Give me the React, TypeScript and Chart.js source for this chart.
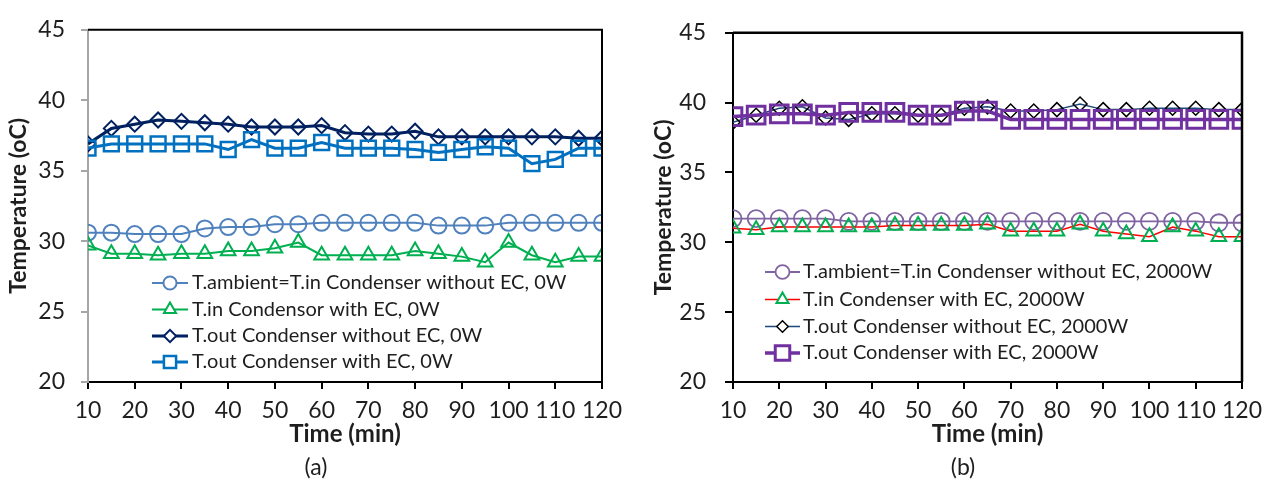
import React, { useEffect, useRef } from 'react';
import { Chart, registerables } from 'chart.js';
import { drawPoint } from 'chart.js/helpers';

Chart.register(...registerables);

const times = [10, 15, 20, 25, 30, 35, 40, 45, 50, 55, 60, 65, 70, 75, 80, 85, 90, 95, 100, 105, 110, 115, 120];
const xTicks = [10, 20, 30, 40, 50, 60, 70, 80, 90, 100, 110, 120];
const yTicks = [20, 25, 30, 35, 40, 45];

// Panel (a) – 0W
const aLabels = [
  'T.ambient=T.in Condenser without EC, 0W',
  'T.in Condensor with EC, 0W',
  'T.out Condenser without EC, 0W',
  'T.out Condenser with EC, 0W',
];
const aAmbient = [30.6, 30.6, 30.5, 30.5, 30.5, 30.9, 31.0, 31.0, 31.2, 31.2, 31.3, 31.3, 31.3, 31.3, 31.3, 31.1, 31.1, 31.1, 31.3, 31.3, 31.3, 31.3, 31.3];
const aInEC = [29.7, 29.1, 29.1, 29.0, 29.1, 29.1, 29.3, 29.3, 29.5, 29.9, 29.0, 29.0, 29.0, 29.0, 29.3, 29.1, 28.9, 28.5, 29.9, 29.0, 28.5, 28.9, 28.9];
const aOutNoEC = [36.9, 38.0, 38.3, 38.6, 38.5, 38.4, 38.3, 38.1, 38.1, 38.1, 38.2, 37.7, 37.6, 37.6, 37.8, 37.4, 37.4, 37.4, 37.4, 37.4, 37.4, 37.3, 37.3];
const aOutEC = [36.6, 36.9, 36.9, 36.9, 36.9, 36.9, 36.5, 37.2, 36.6, 36.6, 37.0, 36.6, 36.6, 36.6, 36.5, 36.3, 36.5, 36.7, 36.6, 35.5, 35.8, 36.6, 36.6];

// Panel (b) – 2000W
const bLabels = [
  'T.ambient=T.in Condenser without EC, 2000W',
  'T.in Condenser with EC, 2000W',
  'T.out Condenser without EC, 2000W',
  'T.out Condenser with EC, 2000W',
];
const bAmbient = [31.7, 31.7, 31.7, 31.7, 31.7, 31.5, 31.5, 31.5, 31.5, 31.5, 31.5, 31.5, 31.5, 31.5, 31.5, 31.5, 31.5, 31.5, 31.5, 31.5, 31.5, 31.4, 31.4];
const bInEC = [31.0, 30.9, 31.1, 31.1, 31.1, 31.1, 31.1, 31.2, 31.2, 31.2, 31.2, 31.3, 30.8, 30.8, 30.8, 31.3, 30.8, 30.6, 30.4, 31.1, 30.8, 30.4, 30.4];
const bOutNoEC = [38.6, 39.1, 39.6, 39.7, 38.9, 38.8, 39.2, 39.2, 39.1, 39.1, 39.6, 39.7, 39.4, 39.4, 39.5, 39.9, 39.5, 39.5, 39.6, 39.6, 39.6, 39.5, 39.5];
const bOutEC = [39.0, 39.1, 39.2, 39.2, 39.1, 39.3, 39.3, 39.3, 39.1, 39.1, 39.4, 39.4, 38.8, 38.8, 38.8, 38.8, 38.8, 38.8, 38.8, 38.8, 38.8, 38.8, 38.8];

const FONT = 'Lato, "Open Sans", sans-serif';
const TEXT = '#1e1e1e';

const pts = (ys: number[]) => times.map((t, i) => ({ x: t, y: ys[i] }));

const framePlugin = {
  id: 'frame',
  afterDraw(chart: any, _args: any, opts: any) {
    const { ctx, chartArea: a } = chart;
    ctx.save();
    ctx.strokeStyle = '#000';
    ctx.lineWidth = opts.width || 2;
    ctx.beginPath();
    ctx.moveTo(a.left, a.top);
    ctx.lineTo(a.right, a.top);
    ctx.lineTo(a.right, a.bottom);
    ctx.stroke();
    ctx.restore();
  },
};

const legendPlugin = {
  id: 'inLegend',
  afterDraw(chart: any, _args: any, opts: any) {
    const { ctx } = chart;
    ctx.save();
    ctx.font = `${opts.fontSize}px ${FONT}`;
    ctx.textBaseline = 'middle';
    ctx.textAlign = 'left';
    chart.data.datasets.forEach((ds: any, i: number) => {
      const y = opts.rows[i];
      ctx.strokeStyle = ds.borderColor;
      ctx.lineWidth = ds.borderWidth;
      ctx.beginPath();
      ctx.moveTo(opts.x0, y);
      ctx.lineTo(opts.x1, y);
      ctx.stroke();
      ctx.strokeStyle = ds.pointBorderColor;
      ctx.fillStyle = '#ffffff';
      ctx.lineWidth = ds.pointBorderWidth;
      drawPoint(ctx, { pointStyle: ds.pointStyle, rotation: 0, borderWidth: ds.pointBorderWidth, radius: ds.pointRadius * 0.82 }, (opts.x0 + opts.x1) / 2, y);
      ctx.fillStyle = TEXT;
      ctx.fillText(ds.label, opts.tx, y);
    });
    ctx.restore();
  },
};

type PanelCfg = {
  labels: string[];
  series: number[][];
  lineColors: string[];
  markerColors: string[];
  lineWidths: number[];
  styles: string[];
  radii: number[];
  markerWidths: number[];
  yAxisColor: string;
  left: number;
  right: number;
  top: number;
  yTitlePad: number;
  yTickPad: number;
  tickLen: number;
  legend: any;
  frameWidth: number;
};

function Panel({ cfg }: { cfg: PanelCfg }) {
  const ref = useRef<HTMLCanvasElement>(null);
  useEffect(() => {
    if (!ref.current) return;
    const datasets = cfg.series.map((s, i) => ({
      label: cfg.labels[i],
      data: pts(s),
      borderColor: cfg.lineColors[i],
      backgroundColor: 'rgba(0,0,0,0)',
      borderWidth: cfg.lineWidths[i],
      pointStyle: cfg.styles[i],
      pointRadius: cfg.radii[i],
      pointBorderColor: cfg.markerColors[i],
      pointBackgroundColor: 'rgba(0,0,0,0)',
      pointBorderWidth: cfg.markerWidths[i],
      tension: 0,
      order: 3 - i,
    }));
    const chart = new Chart(ref.current, {
      type: 'line',
      data: { datasets },
      options: {
        animation: false,
        responsive: false,
        maintainAspectRatio: false,
        layout: { padding: { left: 0, right: 636 - cfg.right, top: cfg.top, bottom: 0 } },
        plugins: {
          legend: { display: false },
          tooltip: { enabled: false },
          frame: { width: cfg.frameWidth },
          inLegend: cfg.legend,
        } as any,
        scales: {
          x: {
            type: 'linear',
            min: 10,
            max: 120,
            afterBuildTicks: (s: any) => { s.ticks = xTicks.map((v) => ({ value: v })); },
            afterFit: (s: any) => { s.height = 485 - 382; },
            ticks: { font: { family: FONT, size: 23 }, color: TEXT, padding: 8, maxRotation: 0, autoSkip: false },
            grid: { drawOnChartArea: false, drawTicks: true, tickLength: 7, color: '#000', lineWidth: 2 },
            border: { display: true, color: '#000', width: 2 },
            title: { display: true, text: 'Time (min)', font: { family: FONT, size: 24, weight: 'bold' }, color: TEXT, padding: { top: 0, bottom: 36 } },
          },
          y: {
            type: 'linear',
            min: 20,
            max: 45,
            afterBuildTicks: (s: any) => { s.ticks = yTicks.map((v) => ({ value: v })); },
            afterFit: (s: any) => { s.width = cfg.left; },
            ticks: { font: { family: FONT, size: 23 }, color: TEXT, padding: cfg.yTickPad },
            grid: { drawOnChartArea: false, drawTicks: true, tickLength: cfg.tickLen, color: cfg.yAxisColor, lineWidth: 2 },
            border: { display: true, color: cfg.yAxisColor, width: 2 },
            title: { display: true, text: 'Temperature (oC)', font: { family: FONT, size: 23, weight: 'bold' }, color: TEXT, padding: { top: cfg.yTitlePad, bottom: 0 } },
          },
        },
      },
      plugins: [framePlugin, legendPlugin],
    });
    return () => chart.destroy();
  }, []);
  return <canvas ref={ref} width={636} height={485} style={{ display: 'block', width: 636, height: 485 }} />;
}

const cfgA: PanelCfg = {
  labels: aLabels,
  series: [aAmbient, aInEC, aOutNoEC, aOutEC],
  lineColors: ['#4F81BD', '#00B050', '#002060', '#0070C0'],
  markerColors: ['#4F81BD', '#00B050', '#002060', '#0070C0'],
  lineWidths: [2, 2, 3, 3],
  styles: ['circle', 'triangle', 'rectRot', 'rect'],
  radii: [8, 8.5, 7.5, 10.5],
  markerWidths: [2, 2, 2, 2.5],
  yAxisColor: '#A6A6A6',
  left: 88,
  right: 602,
  top: 23,
  yTitlePad: 5,
  yTickPad: 16,
  tickLen: 7,
  legend: { x0: 152, x1: 188, tx: 192, rows: [283, 309.5, 336, 362], fontSize: 20 },
  frameWidth: 2,
};

const cfgB: PanelCfg = {
  labels: bLabels,
  series: [bAmbient, bInEC, bOutNoEC, bOutEC],
  lineColors: ['#8064A2', '#FF0000', '#1F497D', '#7030A0'],
  markerColors: ['#8064A2', '#00B050', '#000000', '#7030A0'],
  lineWidths: [1.8, 1.5, 1.5, 3.5],
  styles: ['circle', 'triangle', 'rectRot', 'rect'],
  radii: [8.5, 8.5, 7, 12.5],
  markerWidths: [1.8, 2, 1.5, 3],
  yAxisColor: '#000000',
  left: 97,
  right: 606,
  top: 27,
  yTitlePad: 14,
  yTickPad: 19,
  tickLen: 8,
  legend: { x0: 129, x1: 164, tx: 167, rows: [272, 299.5, 326.5, 353], fontSize: 20 },
  frameWidth: 2.5,
};

export default function App() {
  const cap: React.CSSProperties = { position: 'absolute', top: 452, fontFamily: FONT, fontSize: 23, color: TEXT, width: 60, textAlign: 'center', lineHeight: '28px' };
  return (
    <div style={{ position: 'fixed', left: 0, top: 0, width: 1272, height: 485, background: '#fff', overflow: 'hidden' }}>
      <div style={{ position: 'absolute', left: 0, top: 0 }}><Panel cfg={cfgA} /></div>
      <div style={{ position: 'absolute', left: 636, top: 0 }}><Panel cfg={cfgB} /></div>
      <div style={{ ...cap, left: 316 - 30 }}>(a)</div>
      <div style={{ ...cap, left: 963 - 30 }}>(b)</div>
    </div>
  );
}
